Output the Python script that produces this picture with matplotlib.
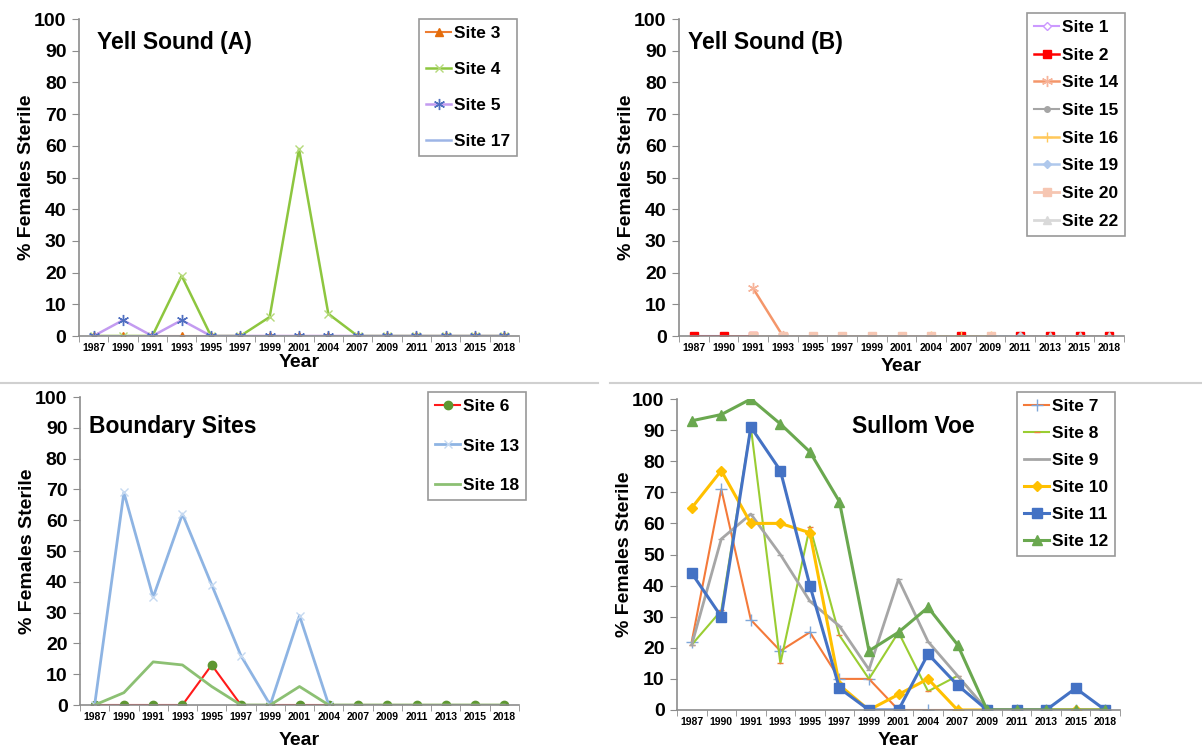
import numpy as np
import matplotlib
matplotlib.use('Agg')
import matplotlib.pyplot as plt
from matplotlib.lines import Line2D

plt.rcParams['font.family'] = ['Liberation Sans', 'DejaVu Sans']
plt.rcParams['font.weight'] = 'bold'

nan = np.nan
years = ['1987', '1990', '1991', '1993', '1995', '1997', '1999', '2001',
         '2004', '2007', '2009', '2011', '2013', '2015', '2018']

# Yell Sound (A)
site3 = [0, 0, 0, 0, 0, 0, 0, 0, 0, 0, 0, 0, 0, 0, 0]
site4 = [0, 0, 0, 19, 0, 0, 6, 59, 7, 0, 0, 0, 0, 0, 0]
site5 = [0, 5, 0, 5, 0, 0, 0, 0, 0, 0, 0, 0, 0, 0, 0]
site17 = [0, 0, 0, 0, 0, 0, 0, 0, 0, 0, 0, 0, 0, 0, 0]

# Yell Sound (B)
site1 = [0, 0, nan, nan, nan, nan, nan, nan, nan, nan, nan, nan, nan, nan, nan]
site2 = [0, 0, 0, nan, nan, nan, nan, nan, nan, 0, nan, 0, 0, 0, 0]
site14 = [nan, nan, 15, 0, nan, nan, nan, nan, nan, nan, nan, nan, nan, nan, nan]
site15 = [nan, nan, nan, nan, nan, nan, nan, nan, nan, nan, nan, nan, nan, nan, nan]
site16 = [nan, nan, nan, nan, nan, nan, nan, nan, 0, 0, 0, nan, nan, nan, nan]
site19 = [nan, nan, nan, nan, nan, nan, nan, nan, nan, nan, 0, 0, nan, nan, nan]
site20 = [nan, nan, 0, 0, 0, 0, 0, 0, 0, nan, 0, nan, nan, nan, nan]
site22 = [nan, nan, nan, nan, nan, nan, nan, nan, nan, nan, nan, 0, 0, 0, 0]

# Boundary sites
site6 = [0, 0, 0, 0, 13, 0, 0, 0, 0, 0, 0, 0, 0, 0, 0]
site13 = [0, 69, 35, 62, 39, 16, 0, 29, 0, nan, nan, nan, nan, nan, nan]
site18 = [0, 4, 14, 13, 6, 0, 0, 6, 0, 0, 0, 0, 0, 0, 0]

# Sullom Voe
site7 = [22, 71, 29, 19, 25, 10, 10, 0, 0, 0, 0, 0, 0, 0, 0]
site8 = [21, 32, 91, 15, 59, 24, 10, 25, 6, 11, 0, 0, 0, 0, 0]
site9 = [21, 55, 63, 50, 35, 27, 13, 42, 22, 11, 0, 0, 0, 0, 0]
site10 = [65, 77, 60, 60, 57, 8, 0, 5, 10, 0, 0, 0, 0, 0, 0]
site11 = [44, 30, 91, 77, 40, 7, 0, 0, 18, 8, 0, 0, 0, 7, 0]
site12 = [93, 95, 100, 92, 83, 67, 19, 25, 33, 21, 0, 0, 0, 0, 0]

W, H = 1202, 749
fig = plt.figure(figsize=(W / 100, H / 100), dpi=100)
AXC = '#8c8c8c'


def px_axes(x0, x1, ytop, ybot):
    return fig.add_axes([x0 / W, 1 - ybot / H, (x1 - x0) / W, (ybot - ytop) / H])


def setup(ax, ylab_x, year_y):
    x = np.arange(len(years))
    ax.set_xlim(-0.5, len(years) - 0.5)
    ax.set_ylim(0, 100)
    ax.set_yticks(range(0, 101, 10))
    ax.set_xticks(x)
    ax.set_xticklabels(years, fontsize=7.5, fontweight='bold')
    ax.set_xticks(np.arange(-0.5, len(years), 1), minor=True)
    ax.tick_params(axis='x', which='major', length=0, pad=5)
    ax.tick_params(axis='x', which='minor', length=4, color=AXC, direction='out')
    ax.tick_params(axis='y', length=5, color=AXC, labelsize=14, pad=4)
    for lab in ax.get_yticklabels():
        lab.set_fontweight('bold')
    for s in ['top', 'right']:
        ax.spines[s].set_visible(False)
    for s in ['left', 'bottom']:
        ax.spines[s].set_color(AXC)
        ax.spines[s].set_linewidth(1.2)
    ax.set_ylabel('% Females Sterile', fontsize=14, fontweight='bold')
    ax.yaxis.set_label_coords(ylab_x, 0.5)
    ax.set_xlabel('Year', fontsize=14, fontweight='bold')
    ax.xaxis.set_label_coords(0.5, year_y)
    ax.patch.set_alpha(0)
    return x


def leg(ax, loc_px, spacing):
    lg = ax.legend(loc='upper left', bbox_to_anchor=(loc_px[0] / W, 1 - loc_px[1] / H),
                   bbox_transform=fig.transFigure, fontsize=12.5, frameon=True,
                   fancybox=False, edgecolor='#7f7f7f', handlelength=1.45,
                   handletextpad=0.15, labelspacing=spacing, borderpad=0.4,
                   borderaxespad=0)
    lg.get_frame().set_linewidth(1.2)
    for t in lg.get_texts():
        t.set_fontweight('bold')
    return lg


# ---- Yell Sound (A)
ax = px_axes(79, 519, 19, 336)
x = setup(ax, -0.1, -0.057)
ax.plot(x, site3, color='#ED7D31', lw=1.5, marker='^', ms=6, mfc='#E46C0A', mec='#E46C0A', label='Site 3')
ax.plot(x, site4, color='#8DC63F', lw=1.8, marker='x', ms=6, mec='#B5D97A', label='Site 4')
ax.plot(x, site5, color='#C39BF0', lw=1.8, marker=(6, 2, 0), ms=8, mec='#4F6FC0', label='Site 5')
ax.plot(x, site17, color='#9DB5E6', lw=1.8, label='Site 17')
ax.text(0.04, 0.925, 'Yell Sound (A)', transform=ax.transAxes, fontsize=16.5, fontweight='bold', va='center')
leg(ax, (419, 19), 1.2)

# ---- Yell Sound (B)
ax = px_axes(679, 1124, 19, 336)
x = setup(ax, -0.1, -0.068)
ax.plot(x, site1, color='#CC99FF', lw=1.5, marker='D', ms=4, mfc='white', mec='#CC99FF', label='Site 1')
ax.plot(x, site2, color='#FF0000', lw=1.8, marker='s', ms=6, mfc='#FF0000', mec='#FF0000', label='Site 2')
ax.plot(x, site14, color='#F4966A', lw=1.8, marker=(6, 2, 0), ms=8, mec='#F7B49A', label='Site 14')
ax.plot(x, site15, color='#A5A5A5', lw=1.5, marker='o', ms=4, label='Site 15')
ax.plot(x, site16, color='#FFC85A', lw=1.8, marker='+', ms=7, label='Site 16')
ax.plot(x, site19, color='#AFC8EC', lw=1.8, marker='D', ms=4, label='Site 19')
ax.plot(x, site20, color='#F6C6B2', lw=2.0, marker='s', ms=6, label='Site 20')
ax.plot(x, site22, color='#D9D9D9', lw=2.0, marker='^', ms=6, label='Site 22')
ax.text(0.02, 0.925, 'Yell Sound (B)', transform=ax.transAxes, fontsize=16.5, fontweight='bold', va='center')
leg(ax, (1027, 13), 0.72)

# ---- Boundary Sites
ax = px_axes(80, 519, 397, 705)
x = setup(ax, -0.1, -0.088)
ax.plot(x, site6, color='#FF1A1A', lw=1.5, marker='o', ms=6, mfc='#5E9732', mec='#5E9732', label='Site 6')
ax.plot(x, site13, color='#8EB4E3', lw=2.0, marker='x', ms=6, mec='#C5D9F1', label='Site 13')
ax.plot(x, site18, color='#8CC073', lw=2.0, label='Site 18')
ax.text(0.02, 0.905, 'Boundary Sites', transform=ax.transAxes, fontsize=16.5, fontweight='bold', va='center')
leg(ax, (428, 392), 1.4)

# ---- Sullom Voe
ax = px_axes(677, 1120, 399, 710)
x = setup(ax, -0.1, -0.071)
ax.plot(x, site7, color='#F47A3A', lw=1.5, marker='+', ms=8, mec='#7FA7D9', label='Site 7')
ax.plot(x, site8, color='#9ACD32', lw=1.5, marker='_', ms=5, mec='#F08040', label='Site 8')
ax.plot(x, site9, color='#A6A6A6', lw=2.0, marker='_', ms=5, label='Site 9')
ax.plot(x, site10, color='#FFC000', lw=2.2, marker='D', ms=5, label='Site 10')
ax.plot(x, site11, color='#4472C4', lw=2.2, marker='s', ms=7, label='Site 11')
ax.plot(x, site12, color='#6AA84F', lw=2.2, marker='^', ms=7, label='Site 12')
ax.text(0.395, 0.91, 'Sullom Voe', transform=ax.transAxes, fontsize=16.5, fontweight='bold', va='center')
leg(ax, (1017, 392), 0.68)

# separator lines between the panels
fig.add_artist(Line2D([0, 598 / W], [1 - 383 / H, 1 - 383 / H], color='#d0d0d0', lw=1.5))
fig.add_artist(Line2D([610 / W, 1], [1 - 383 / H, 1 - 383 / H], color='#d0d0d0', lw=1.5))

fig.savefig('out.png', dpi=100)
